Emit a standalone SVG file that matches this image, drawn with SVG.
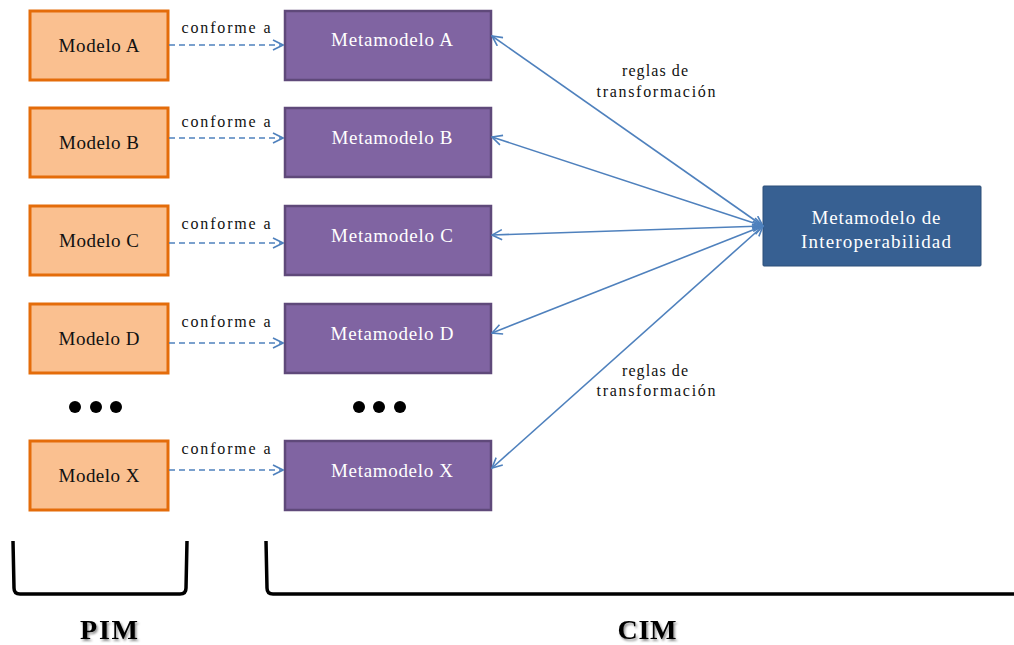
<svg xmlns="http://www.w3.org/2000/svg" width="1014" height="645" viewBox="0 0 1014 645">
  <style>
    text { font-family: "Liberation Serif", "DejaVu Serif", serif; }
    .model rect { fill: #FAC090; stroke: #E46C0A; stroke-width: 3; }
    .model text { font-size: 19px; fill: #111; text-anchor: middle; }
    .meta rect { fill: #8064A2; stroke: #5F497A; stroke-width: 2.5; }
    .meta text { font-size: 19px; fill: #FFFFFF; text-anchor: middle; }
    .inter rect { fill: #376092; stroke: #2C4F78; stroke-width: 1; }
    .inter text { font-size: 19px; fill: #FFFFFF; text-anchor: middle; }
    .dash { stroke: #4F81BD; stroke-width: 1.6; stroke-dasharray: 6 4; fill: none; }
    .rule { stroke: #4F81BD; stroke-width: 1.6; fill: none; }
    .lbl { font-size: 16px; fill: #111; text-anchor: middle; }
    .dots { fill: #000; }
    .brace { stroke: #000; stroke-width: 3.5; fill: none; }
    .layer { font-size: 28px; font-weight: bold; fill: #000; text-anchor: middle; }
  </style>
  <defs>
    <marker id="open" viewBox="0 0 12 12" refX="11" refY="6" markerWidth="12" markerHeight="12" markerUnits="userSpaceOnUse" orient="auto-start-reverse">
      <path d="M1,1 L11,6 L1,11" fill="none" stroke="#4F81BD" stroke-width="1.6"/>
    </marker>
    <filter id="shadow" x="-20%" y="-20%" width="140%" height="160%">
      <feDropShadow dx="1.5" dy="2" stdDeviation="1.2" flood-color="#000" flood-opacity="0.45"/>
    </filter>
  </defs>

  <!-- PIM models -->
  <g id="modelo-a" class="model"><rect x="30" y="11" width="138" height="69"/><text x="99" y="52" textLength="81">Modelo A</text></g>
  <g id="modelo-b" class="model"><rect x="30" y="108" width="138" height="69"/><text x="99" y="149" textLength="80">Modelo B</text></g>
  <g id="modelo-c" class="model"><rect x="30" y="206" width="138" height="69"/><text x="99" y="247" textLength="80">Modelo C</text></g>
  <g id="modelo-d" class="model"><rect x="30" y="304" width="138" height="69"/><text x="99" y="345" textLength="81">Modelo D</text></g>
  <g id="modelo-x" class="model"><rect x="30" y="441" width="138" height="69"/><text x="99" y="482" textLength="81">Modelo X</text></g>

  <!-- CIM metamodels -->
  <g id="metamodelo-a" class="meta"><rect x="285" y="11" width="206" height="69"/><text x="392" y="46" textLength="122">Metamodelo A</text></g>
  <g id="metamodelo-b" class="meta"><rect x="285" y="108" width="206" height="69"/><text x="392" y="144" textLength="121">Metamodelo B</text></g>
  <g id="metamodelo-c" class="meta"><rect x="285" y="206" width="206" height="69"/><text x="392" y="242" textLength="122">Metamodelo C</text></g>
  <g id="metamodelo-d" class="meta"><rect x="285" y="304" width="206" height="69"/><text x="392" y="340" textLength="123">Metamodelo D</text></g>
  <g id="metamodelo-x" class="meta"><rect x="285" y="441" width="206" height="69"/><text x="392" y="477" textLength="122">Metamodelo X</text></g>

  <!-- interoperability metamodel -->
  <g id="interoperabilidad" class="inter">
    <rect x="763" y="186" width="218" height="80" rx="1"/>
    <text x="876" y="224" textLength="129">Metamodelo de</text>
    <text x="876" y="248" textLength="150">Interoperabilidad</text>
  </g>

  <!-- ellipses -->
  <g id="continuacion" class="dots">
    <circle cx="75" cy="407" r="6"/><circle cx="96" cy="407" r="6"/><circle cx="116" cy="407" r="6"/>
    <circle cx="359" cy="407" r="6"/><circle cx="379" cy="407" r="6"/><circle cx="400" cy="407" r="6"/>
  </g>

  <!-- connectors -->
  <g id="connectors">
    <line class="dash" x1="169" y1="45" x2="283" y2="45" marker-end="url(#open)"/>
    <line class="dash" x1="169" y1="138" x2="283" y2="138" marker-end="url(#open)"/>
    <line class="dash" x1="169" y1="243" x2="283" y2="243" marker-end="url(#open)"/>
    <line class="dash" x1="169" y1="343" x2="283" y2="343" marker-end="url(#open)"/>
    <line class="dash" x1="169" y1="470" x2="283" y2="470" marker-end="url(#open)"/>

    <line class="rule" x1="492" y1="36" x2="763" y2="226" marker-start="url(#open)" marker-end="url(#open)"/>
    <line class="rule" x1="492" y1="137" x2="763" y2="226" marker-start="url(#open)" marker-end="url(#open)"/>
    <line class="rule" x1="492" y1="235" x2="763" y2="226" marker-start="url(#open)" marker-end="url(#open)"/>
    <line class="rule" x1="492" y1="333" x2="763" y2="226" marker-start="url(#open)" marker-end="url(#open)"/>
    <line class="rule" x1="492" y1="468" x2="763" y2="226" marker-start="url(#open)" marker-end="url(#open)"/>
  </g>

  <!-- connector labels -->
  <g id="labels">
    <text class="lbl" x="226" y="33" textLength="89">conforme  a</text>
    <text class="lbl" x="226" y="127" textLength="89">conforme  a</text>
    <text class="lbl" x="226" y="229" textLength="89">conforme  a</text>
    <text class="lbl" x="226" y="327" textLength="89">conforme  a</text>
    <text class="lbl" x="226" y="454" textLength="89">conforme  a</text>
    <text class="lbl" x="655" y="76" textLength="66">reglas de</text>
    <text class="lbl" x="656" y="97" textLength="119">transformación</text>
    <text class="lbl" x="655" y="376" textLength="66">reglas de</text>
    <text class="lbl" x="656" y="396" textLength="119">transformación</text>
  </g>

  <!-- layer brackets -->
  <g id="pim">
    <path class="brace" d="M13,541 L14,588 Q14,594 20,594 L180,594 Q186,594 186,588 L187,541"/>
    <text class="layer" x="109" y="639" textLength="58" filter="url(#shadow)">PIM</text>
  </g>
  <g id="cim">
    <path class="brace" d="M266,541 L267,588 Q267,594 273,594 L1014,594"/>
    <text class="layer" x="647" y="639" textLength="59" filter="url(#shadow)">CIM</text>
  </g>
</svg>
